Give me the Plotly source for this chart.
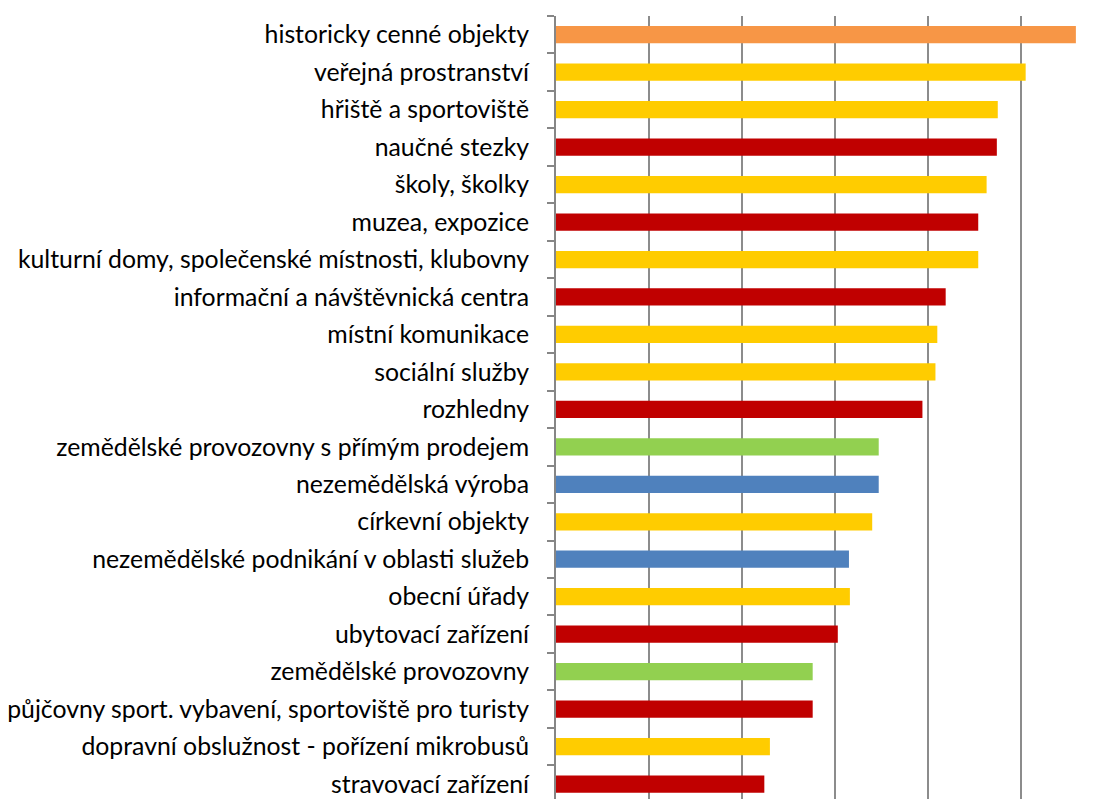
import plotly.graph_objects as go

categories = [
    "historicky cenné objekty",
    "veřejná prostranství",
    "hřiště a sportoviště",
    "naučné stezky",
    "školy, školky",
    "muzea, expozice",
    "kulturní domy, společenské místnosti, klubovny",
    "informační a návštěvnická centra",
    "místní komunikace",
    "sociální služby",
    "rozhledny",
    "zemědělské provozovny s přímým prodejem",
    "nezemědělská výroba",
    "církevní objekty",
    "nezemědělské podnikání v oblasti služeb",
    "obecní úřady",
    "ubytovací zařízení",
    "zemědělské provozovny",
    "půjčovny sport. vybavení, sportoviště pro turisty",
    "dopravní obslužnost - pořízení mikrobusů",
    "stravovací zařízení",
]
values = [5.59, 5.05, 4.75, 4.74, 4.63, 4.54, 4.54, 4.19, 4.10, 4.08, 3.94,
          3.47, 3.47, 3.40, 3.15, 3.16, 3.03, 2.76, 2.76, 2.30, 2.24]
groups = ["orange", "yellow", "yellow", "red", "yellow", "red", "yellow", "red",
          "yellow", "yellow", "red", "green", "blue", "yellow", "blue", "yellow",
          "red", "green", "red", "yellow", "red"]

palette = {"orange": "#F79646", "yellow": "#FFCC00", "red": "#C00000",
           "green": "#92D050", "blue": "#4F81BD"}

fig = go.Figure(go.Bar(
    x=values, y=categories, orientation="h",
    marker=dict(color=[palette[g] for g in groups], line_width=0),
    width=0.46,
))

# page body has an 8px default margin, so the figure is sized to fill the rest
fig.update_layout(
    width=1094, height=791,
    margin=dict(l=548, r=1, t=8, b=0, autoexpand=False),
    plot_bgcolor="white", paper_bgcolor="white",
    showlegend=False,
    font=dict(family="Lato", size=24.8, color="#000000"),
)
fig.update_xaxes(range=[0, 5.86], dtick=1, showticklabels=False,
                 showgrid=True, gridcolor="#8C8C8C", gridwidth=1.5,
                 zeroline=False, showline=False, automargin=False)
fig.update_yaxes(range=[20.4, -0.5], tickson="boundaries", ticks="outside",
                 ticklen=7, tickcolor="#868686", tickwidth=2,
                 showline=True, linecolor="#868686", linewidth=2,
                 showgrid=False, ticklabelstandoff=20, automargin=False)

fig.write_html("out.html")
